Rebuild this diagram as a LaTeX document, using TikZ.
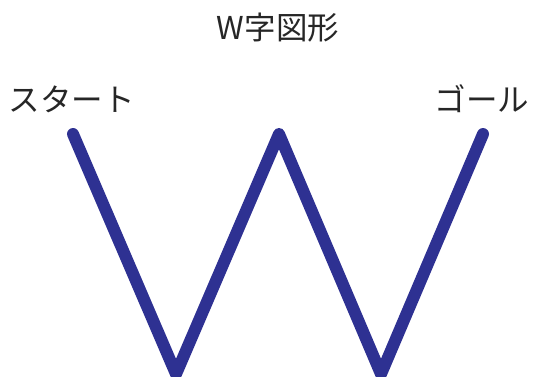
\documentclass[tikz,border=0pt]{standalone}
\usepackage{fontspec}
\setmainfont{Noto Sans CJK JP}
\usetikzlibrary{positioning}
\definecolor{wblue}{RGB}{46,49,146}

\begin{document}
\begin{tikzpicture}[x=1pt, y=-1pt,
    lbl/.style={font=\fontsize{31.5}{31.5}\selectfont, inner sep=0pt, text=black!85},
    wline/.style={draw=wblue, line width=12pt, line cap=round, line join=round}]
  \useasboundingbox (0,0) rectangle (533,376);
  \node[lbl] (title) at (278,28) {W字図形};
  \node[lbl] (start) at (72,99) {スタート};
  \node[lbl] (goal) at (482,99) {ゴール};
  \coordinate (p1) at (73,134);
  \coordinate (p2) at (176,374);
  \coordinate (p3) at (279,134);
  \coordinate (p4) at (381,374);
  \coordinate (p5) at (483,134);
  \begin{scope}
    \clip (0,0) rectangle (533,376);
    \draw[wline] (p1) -- (p2) -- (p3) -- (p4) -- (p5);
  \end{scope}
\end{tikzpicture}
\end{document}
